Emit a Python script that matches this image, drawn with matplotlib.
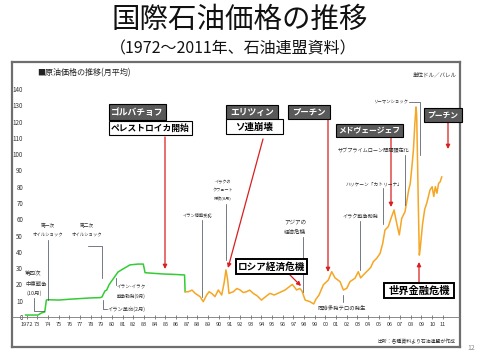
import matplotlib
matplotlib.use('Agg')
import matplotlib.pyplot as plt
from matplotlib.patches import Rectangle

plt.rcParams['font.family'] = ['Noto Sans CJK JP', 'DejaVu Sans']

# monthly average crude price (USD/bbl)
green_x = [1971.9, 1973.06, 1973.4, 1973.7, 1973.85, 1974.0, 1975.0, 1976.0, 1977.0, 1978.0,
           1978.9, 1979.06, 1979.34, 1979.5, 1979.72, 1979.9, 1980.1, 1980.56, 1981.03, 1981.69,
           1982.43, 1982.93, 1983.1, 1984.8, 1985.7, 1986.8, 1986.85]
green_y = [1.2, 1.2, 2.5, 3.1, 10.4, 10.6, 10.4, 10.9, 11.3, 11.7,
           11.9, 12.3, 16.0, 16.5, 19.7, 21.5, 23.3, 27.6, 29.5, 32.0,
           32.5, 32.5, 27.2, 26.4, 26.2, 25.8, 15.5]

orange_x = [1986.9, 1987.15, 1987.5, 1987.8, 1988.25, 1988.55, 1988.87, 1989.1, 1989.34, 1989.65,
            1989.96, 1990.28, 1990.5, 1990.68, 1990.84, 1990.96, 1991.15, 1991.37, 1991.7, 1992.0,
            1992.3, 1992.6, 1992.9, 1993.24, 1993.6, 1994.0, 1994.4, 1994.8, 1995.2, 1995.7,
            1996.2, 1996.7, 1996.9, 1997.3, 1997.6, 1997.8, 1998.1, 1998.55, 1998.9, 1999.1,
            1999.4, 1999.8, 2000.27, 2000.59, 2000.9, 2001.37, 2001.68, 2002.0, 2002.3, 2002.77,
            2003.08, 2003.3, 2003.55, 2004.02, 2004.25, 2004.49, 2004.8, 2005.12, 2005.37, 2005.58,
            2005.89, 2006.2, 2006.43, 2006.68, 2006.92, 2007.15, 2007.46, 2007.6, 2007.8, 2007.95,
            2008.1, 2008.25, 2008.38, 2008.49, 2008.55, 2008.62, 2008.7, 2008.8, 2008.88, 2009.0,
            2009.1, 2009.3, 2009.5, 2009.8, 2010.0, 2010.15, 2010.3, 2010.45, 2010.6, 2010.75,
            2010.9]
orange_y = [15.5, 15.5, 16.5, 14.5, 12.5, 9.4, 13.5, 15.5, 14.5, 12.5,
            16.6, 13.5, 20.7, 28.9, 22.7, 14.5, 15.0, 15.5, 17.5, 16.6,
            15.0, 15.5, 16.5, 14.5, 13.0, 10.4, 12.5, 14.5, 13.5, 15.0,
            16.5, 19.0, 20.0, 16.6, 17.5, 16.0, 10.4, 9.4, 8.0, 10.8,
            13.5, 19.7, 22.7, 27.8, 24.0, 21.7, 16.6, 17.6, 21.7, 23.8,
            27.8, 24.0, 25.8, 28.9, 30.5, 34.0, 36.0, 39.0, 45.3, 53.4,
            55.5, 61.6, 65.7, 57.5, 50.4, 60.6, 64.7, 70.0, 78.0, 82.0,
            92.0, 103.0, 119.0, 129.0, 124.0, 100.0, 70.0, 38.0, 42.0, 50.0,
            57.0, 66.0, 70.0, 78.0, 80.0, 74.0, 80.0, 76.0, 82.0, 83.0,
            86.0]

years = list(range(1972, 2012))
year_labels = ['1972'] + ['%02d' % (y % 100) for y in years[1:]]
y_ticks = list(range(0, 150, 10))

fig = plt.figure(figsize=(4.8, 3.6), dpi=100)
W, H = 480, 360
pos = [12 / W, 1 - 347 / H, 448 / W, 285 / H]

# outer frame
fr = fig.add_axes(pos)
fr.set_xticks([])
fr.set_yticks([])
for s in fr.spines.values():
    s.set_color('#6e6e6e')
    s.set_linewidth(1.6)

# data axes
ax = fig.add_axes(pos)
ax.patch.set_visible(False)
ax.set_xlim(1970.63, 2012.61)
ax.set_ylim(-18.43, 156.6)
for k in ['top', 'right', 'left']:
    ax.spines[k].set_visible(False)
ax.spines['bottom'].set_position(('data', 0))
ax.spines['bottom'].set_color('#777777')
ax.spines['bottom'].set_linewidth(0.6)
ax.plot(green_x, green_y, color='#33cc33', lw=1.1, zorder=3)
ax.plot(orange_x, orange_y, color='#f5a623', lw=1.1, zorder=3)
ax.set_xticks(years)
ax.set_xticklabels(year_labels)
ax.tick_params(axis='x', direction='inout', length=3.5, width=0.5, color='#555555',
               labelsize=4, pad=2, labelcolor='#333333')
ax.set_yticks(y_ticks)
ax.tick_params(axis='y', length=0, pad=-8, labelsize=4.5, labelcolor='#333333')

# overlay in pixel coordinates for annotations
ov = fig.add_axes([0, 0, 1, 1])
ov.set_xlim(0, W)
ov.set_ylim(H, 0)
ov.axis('off')
ov.patch.set_visible(False)

ov.text(240, 20, '国際石油価格の推移', fontsize=20.5, ha='center', va='center', color='#111111')
ov.text(233, 49, '（1972～2011年、石油連盟資料）', fontsize=11.5, ha='center', va='center',
        color='#111111')
ov.text(37, 73, '■原油価格の推移(月平均)', fontsize=5.8, ha='left', va='center', color='#222222')
ov.text(457, 75, '単位ドル／バレル', fontsize=4, ha='right', va='center', color='#333333')
ov.text(455, 342, '出所：各種資料より石油連盟が作成', fontsize=3.5, ha='right', va='center',
        color='#333333')
ov.text(471, 348, '12', fontsize=5, ha='center', va='center', color='#888888')

# boxes: (x0, y0, x1, y1, text, dark, size, thick)
boxes = [
    (109, 104, 166, 120, 'ゴルバチョフ', True, 6.3, False),
    (109, 121, 192, 135, 'ペレストロイカ開始', False, 6.3, False),
    (226, 105, 278, 119, 'エリツィン', True, 6.3, False),
    (226, 119, 283, 134, 'ソ連崩壊', False, 6.8, False),
    (288, 105, 330, 119, 'プーチン', True, 6.0, False),
    (336, 124, 403, 137, 'メドヴェージェフ', True, 5.6, False),
    (424, 108, 462, 122, 'プーチン', True, 5.6, False),
    (236, 259, 307, 274, 'ロシア経済危機', False, 6.9, True),
    (384, 283, 454, 298, '世界金融危機', False, 7.4, True),
]
for x0, y0, x1, y1, t, dark, fs, thick in boxes:
    ov.add_patch(Rectangle((x0, y0), x1 - x0, y1 - y0,
                           facecolor='#595959' if dark else 'white',
                           edgecolor='black', lw=1.4 if thick else 0.8, zorder=5))
    ov.text((x0 + x1) / 2, (y0 + y1) / 2, t, fontsize=fs, ha='center', va='center',
            color='white' if dark else 'black', weight='bold', zorder=6)

red = '#d91f1f'
red_arrows = [
    ((165, 137), (165, 269)),
    ((263, 139), (228, 268)),
    ((328, 120), (328, 272)),
    ((391, 137), (391, 207)),
    ((448, 123), (448, 149)),
    ((290, 275), (301, 286)),
    ((419, 283), (419, 262)),
]
for start, tip in red_arrows:
    ov.annotate('', xy=tip, xytext=start,
                arrowprops=dict(arrowstyle='-|>', color=red, lw=0.9, mutation_scale=6,
                                shrinkA=0, shrinkB=0))

lead = '#3d4654'
leaders = [
    ([34, 34, 44], [298, 311, 311]),
    ([48, 48], [240, 300]),
    ([88, 102, 102], [246, 246, 278]),
    ([103, 103, 107], [300, 309, 309]),
    ([116, 116], [278, 285]),
    ([202, 202], [220, 297]),
    ([226, 226], [204, 260]),
    ([303, 303], [237, 292]),
    ([343, 343], [302, 295]),
    ([360, 360], [221, 270]),
    ([383, 383], [188, 224]),
    ([405, 405], [155, 205]),
    ([409, 420, 420], [102, 102, 155]),
]
for xs, ys in leaders:
    ov.plot(xs, ys, color=lead, lw=0.5)

notes = [
    (33, 273, '第四次', 4.0, 'center'),
    (36, 284, '中東戦争', 3.9, 'center'),
    (34, 293, '(10月)', 4.0, 'center'),
    (48, 226, '第一次', 3.4, 'center'),
    (48, 234, 'オイルショック', 3.2, 'center'),
    (87, 226, '第二次', 3.4, 'center'),
    (87, 234, 'オイルショック', 3.2, 'center'),
    (108, 309, 'イラン革命(2月)', 3.8, 'left'),
    (117, 287, 'イラン-イラク', 3.3, 'left'),
    (117, 296, '戦争勃発(9月)', 3.3, 'left'),
    (198, 215, 'イラン停戦受諾', 3.1, 'center'),
    (223, 182, 'イラクの', 3.0, 'center'),
    (223, 191, 'クウェート', 3.0, 'center'),
    (223, 199, '侵攻(8月)', 3.0, 'center'),
    (295, 222, 'アジアの', 4.0, 'center'),
    (295, 232, '経済危機', 4.0, 'center'),
    (342, 308, '同時多発テロの発生', 3.9, 'center'),
    (360, 216, 'イラク戦争勃発', 3.7, 'center'),
    (374, 184, 'ハリケーン「カトリーナ」', 3.4, 'center'),
    (374, 151, 'サブプライムローン問題顕在化', 3.7, 'center'),
    (408, 102, 'リーマンショック', 3.2, 'right'),
]
for x, y, t, fs, ha in notes:
    ov.text(x, y, t, fontsize=fs, ha=ha, va='center', color='#333333')

fig.savefig('out.png', dpi=100)
